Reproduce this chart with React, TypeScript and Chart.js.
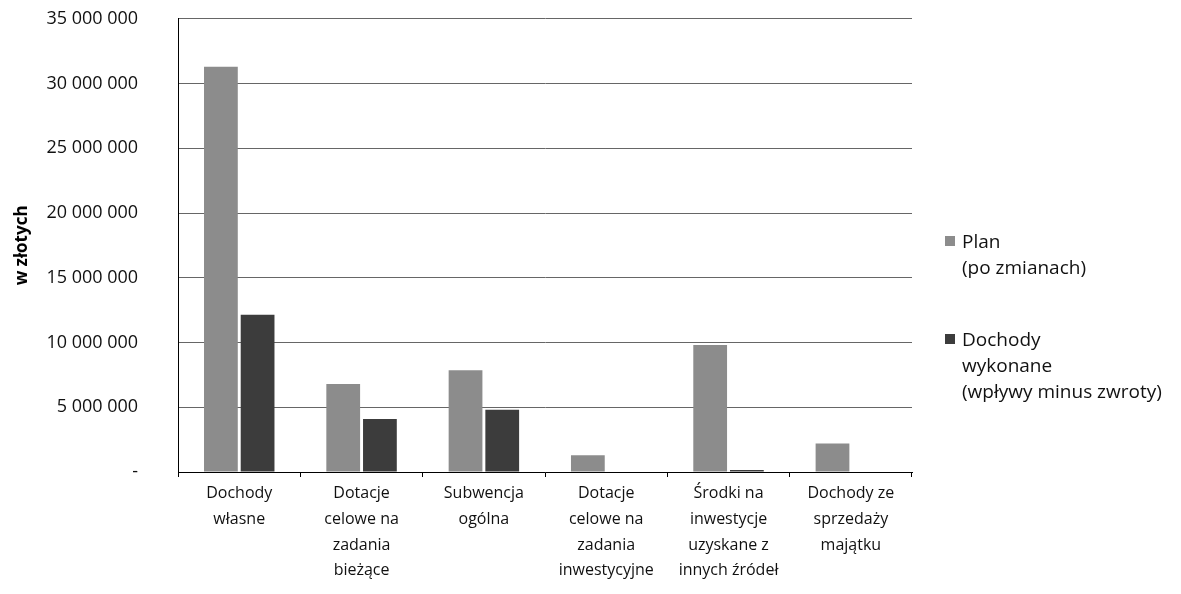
import React, { useEffect, useRef } from "react";
import { Chart, registerables } from "chart.js";

Chart.register(...registerables);

const categories: string[][] = [
  ["Dochody", "własne"],
  ["Dotacje", "celowe na", "zadania", "bieżące"],
  ["Subwencja", "ogólna"],
  ["Dotacje", "celowe na", "zadania", "inwestycyjne"],
  ["Środki na", "inwestycje", "uzyskane z", "innych źródeł"],
  ["Dochody ze", "sprzedaży", "majątku"],
];

const planValues = [31300000, 6800000, 7850000, 1300000, 9800000, 2200000];
const executedValues = [12150000, 4100000, 4800000, 0, 150000, 0];

const seriesLabels = ["Plan (po zmianach)", "Dochody wykonane (wpływy minus zwroty)"];
const legendLines: string[][] = [
  ["Plan", "(po zmianach)"],
  ["Dochody", "wykonane", "(wpływy minus zwroty)"],
];

const PLAN_COLOR = "#8c8c8c";
const EXEC_COLOR = "#3c3c3c";
const FONT = "'Open Sans', 'Liberation Sans', sans-serif";

function formatTick(v: number): string {
  if (v === 0) return "-";
  return String(v).replace(/\B(?=(\d{3})+(?!\d))/g, " ");
}

export default function App() {
  const ref = useRef<HTMLCanvasElement | null>(null);

  useEffect(() => {
    if (!ref.current) return;
    const chart = new Chart(ref.current, {
      type: "bar",
      data: {
        labels: categories,
        datasets: [
          {
            label: seriesLabels[0],
            data: planValues,
            backgroundColor: PLAN_COLOR,
            barPercentage: 0.92,
            categoryPercentage: 0.6,
          },
          {
            label: seriesLabels[1],
            data: executedValues,
            backgroundColor: EXEC_COLOR,
            barPercentage: 0.92,
            categoryPercentage: 0.6,
          },
        ],
      },
      options: {
        responsive: false,
        animation: false,
        layout: { padding: { top: 0, right: 261, left: 0, bottom: 0 } },
        plugins: {
          legend: { display: false },
          tooltip: { enabled: false },
        },
        scales: {
          x: {
            afterFit: (scale: any) => {
              scale.height = 114;
            },
            grid: { drawOnChartArea: false, drawTicks: true, tickLength: 5, color: "#000" },
            border: { color: "#000", width: 1 },
            ticks: {
              color: "#111",
              font: { family: FONT, size: 16, lineHeight: 1.6 },
              maxRotation: 0,
              autoSkip: false,
              padding: 4,
            },
          },
          y: {
            min: 0,
            max: 35000000,
            grid: {
              color: "#666",
              lineWidth: 1,
              drawTicks: true,
              tickLength: 40,
              tickColor: "rgba(0,0,0,0)",
            },
            border: { color: "#000", width: 1 },
            title: {
              display: true,
              text: "w złotych",
              color: "#000",
              font: { family: FONT, size: 17, weight: "bold" },
              padding: { top: 4, bottom: 14 },
            },
            ticks: {
              stepSize: 5000000,
              color: "#111",
              font: { family: FONT, size: 18 },
              padding: 0,
              callback: (v: any) => formatTick(Number(v)),
            },
          },
        },
      },
    });
    return () => chart.destroy();
  }, []);

  return (
    <div style={{ position: "relative", width: 1165, height: 578, background: "#fff" }}>
      <canvas ref={ref} width={1165} height={578} />
      <div
        style={{
          position: "absolute",
          left: 937,
          top: 220,
          fontFamily: FONT,
          fontSize: 19,
          lineHeight: "26px",
          color: "#111",
        }}
      >
        {legendLines.map((lines, i) => (
          <div key={i} style={{ position: "relative", marginBottom: i === 0 ? 46 : 0, paddingLeft: 17 }}>
            <span
              style={{
                position: "absolute",
                left: 0,
                top: 8,
                width: 10,
                height: 10,
                background: i === 0 ? PLAN_COLOR : EXEC_COLOR,
              }}
            />
            {lines.map((l, j) => (
              <div key={j}>{l}</div>
            ))}
          </div>
        ))}
      </div>
    </div>
  );
}
